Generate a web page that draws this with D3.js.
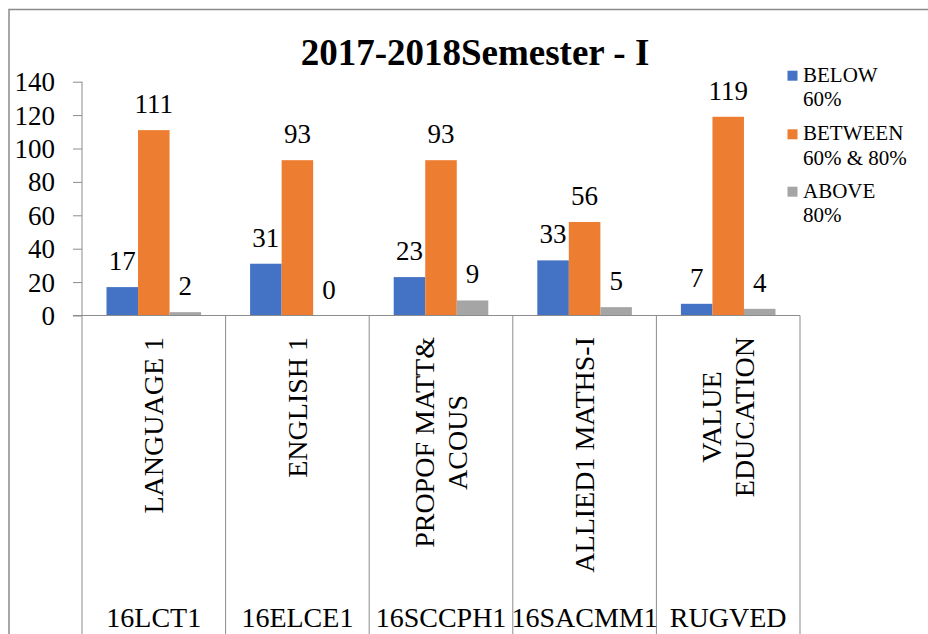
<!DOCTYPE html>
<html>
<head>
<meta charset="utf-8">
<script src="https://cdn.jsdelivr.net/npm/d3@7/dist/d3.min.js"></script>
<style>
  html, body { margin: 0; padding: 0; background: #fff; }
  svg { display: block; }
  svg text { font-family: 'Liberation Serif', Tinos, 'Times New Roman', Times, 'DejaVu Serif', 'Noto Serif', serif; fill: #000; }
</style>
</head>
<body>
<svg id="chart" width="928" height="634"></svg>
<script>
const title = "2017-2018Semester - I";
const subjects = ["LANGUAGE 1", "ENGLISH 1", "PROPOF MATT&\nACOUS", "ALLIED1 MATHS-I", "VALUE\nEDUCATION"];
const codes = ["16LCT1", "16ELCE1", "16SCCPH1", "16SACMM1", "RUGVED"];
const seriesNames = ["BELOW\n60%", "BETWEEN\n60% & 80%", "ABOVE\n80%"];
const below = [17, 31, 23, 33, 7];
const between = [111, 93, 93, 56, 119];
const above = [2, 0, 9, 5, 4];
const yTicks = [0, 20, 40, 60, 80, 100, 120, 140];
const colors = ["#4472C4", "#ED7D31", "#A5A5A5"];

const series = [below, between, above];
const svg = d3.select("#chart");
const axisColor = "#8c8c8c";
const serif = "'Liberation Serif', Tinos, 'Times New Roman', Times, 'DejaVu Serif', 'Noto Serif', serif";

// outer frame
svg.append("rect").attr("x", 9).attr("y", 9.5).attr("width", 1000).attr("height", 1000)
  .attr("fill", "none").attr("stroke", "#8a8a8a").attr("stroke-width", 1.5);

const x0 = 82, x1 = 800, yTop = 81.7, yBase = 315.5;
const x = d3.scaleBand().domain(d3.range(subjects.length)).range([x0, x1]).padding(0);
const xs = d3.scaleBand().domain(d3.range(series.length))
  .range([24.5, x.bandwidth() - 24.5]).padding(0);
const y = d3.scaleLinear().domain([0, 140]).range([yBase, yTop]);

// title
svg.append("text").attr("x", 475).attr("y", 65).attr("text-anchor", "middle")
  .attr("font-family", serif)
  .attr("font-size", 37).attr("font-weight", "bold").text(title);

// y axis
const gy = svg.append("g").attr("transform", `translate(${x0},0)`)
  .call(d3.axisLeft(y).tickValues(yTicks).tickSize(9).tickPadding(18).tickFormat(d3.format("d")));
gy.attr("font-family", serif);
gy.select(".domain").attr("stroke", axisColor).attr("d", `M-0,${yTop}V${yBase}`);
gy.selectAll(".tick line").attr("stroke", axisColor);
gy.selectAll(".tick text").attr("font-family", serif)
  .attr("font-size", 27).attr("fill", "#000").attr("dy", "0.33em");

// bars
series.forEach((vals, si) => {
  svg.append("g").selectAll("rect").data(vals).join("rect")
    .attr("x", (d, i) => x(i) + xs(si))
    .attr("width", xs.bandwidth())
    .attr("y", d => y(d))
    .attr("height", d => yBase - y(d))
    .attr("fill", colors[si]);
  svg.append("g").selectAll("text").data(vals).join("text")
    .attr("x", (d, i) => x(i) + xs(si) + xs.bandwidth() / 2)
    .attr("y", d => y(d) - 17)
    .attr("text-anchor", "middle").attr("font-size", 27).attr("font-family", serif)
    .text(d => d);
});

// x axis line & category separators
svg.append("line").attr("x1", x0 - 9).attr("x2", x1).attr("y1", yBase).attr("y2", yBase)
  .attr("stroke", axisColor).attr("stroke-width", 1);
svg.append("g").selectAll("line").data(d3.range(subjects.length + 1)).join("line")
  .attr("x1", i => i < subjects.length ? x(i) : x1)
  .attr("x2", i => i < subjects.length ? x(i) : x1)
  .attr("y1", yBase).attr("y2", 640)
  .attr("stroke", axisColor).attr("stroke-width", 1);

// rotated subject labels
subjects.forEach((s, i) => {
  const lines = s.split("\n");
  const cx = x(i) + x.bandwidth() / 2;
  const g = svg.append("g");
  const t = g.append("text").attr("font-size", 28).attr("text-anchor", "middle").attr("font-family", serif);
  const lh = 33;
  lines.forEach((ln, k) => {
    t.append("tspan").attr("x", 0).attr("y", (k - (lines.length - 1) / 2) * lh)
      .attr("dy", "0.33em").text(ln);
  });
  let maxLen = 0;
  t.selectAll("tspan").each(function () { maxLen = Math.max(maxLen, this.getComputedTextLength()); });
  g.attr("transform", `translate(${cx},${337 + maxLen / 2}) rotate(-90)`);
});

// code labels
svg.append("g").selectAll("text").data(codes).join("text")
  .attr("x", (d, i) => x(i) + x.bandwidth() / 2)
  .attr("y", 627).attr("text-anchor", "middle").attr("font-size", 28).attr("font-family", serif)
  .text(d => d);

// legend
const legendY = [81.7, 140.3, 197.7];
seriesNames.forEach((n, si) => {
  const g = svg.append("g");
  g.append("rect").attr("x", 787.5).attr("y", legendY[si] - 11).attr("width", 10).attr("height", 10)
    .attr("fill", colors[si]);
  const t = g.append("text").attr("font-size", 21).attr("font-family", serif);
  n.split("\n").forEach((ln, k) => {
    t.append("tspan").attr("x", 803).attr("y", legendY[si] + k * 24.5).text(ln);
  });
});
</script>
</body>
</html>
